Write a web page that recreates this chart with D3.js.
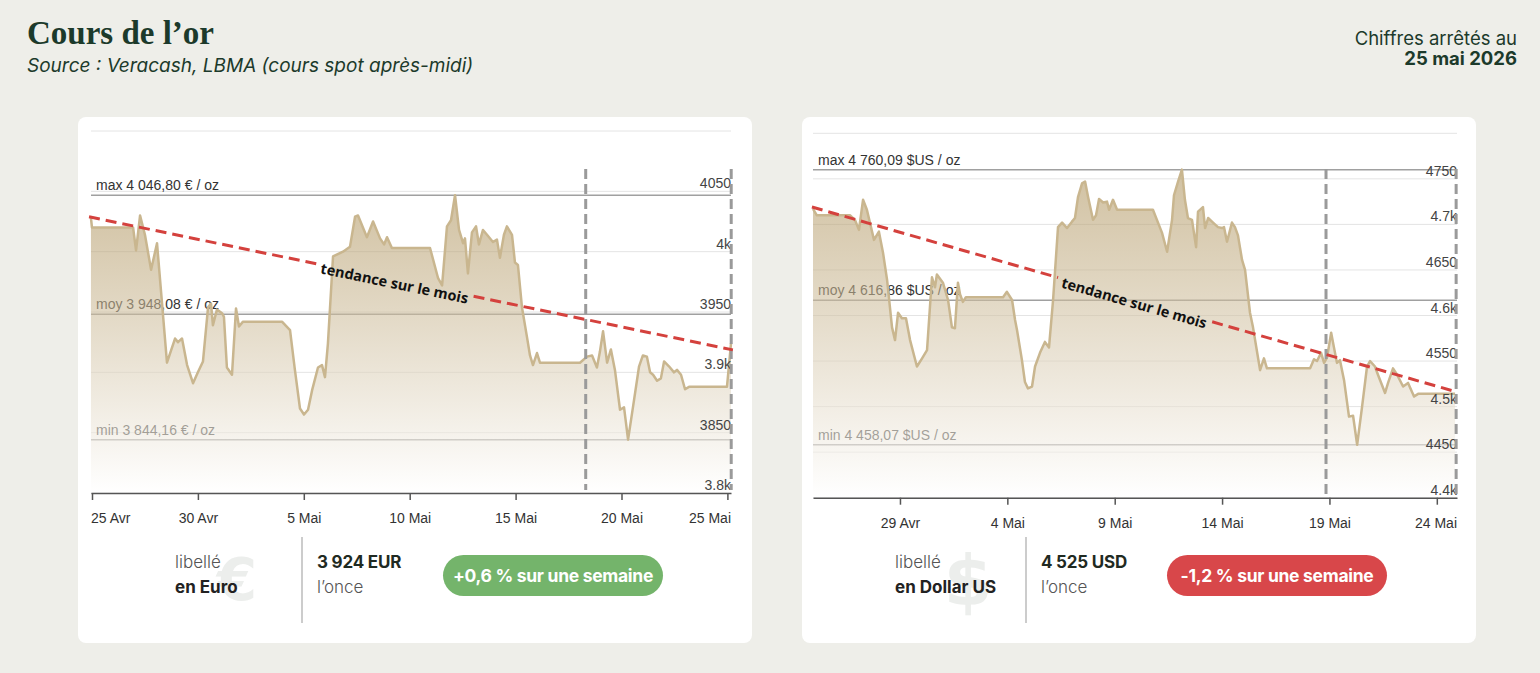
<!DOCTYPE html>
<html><head><meta charset="utf-8">
<script src="https://cdn.jsdelivr.net/npm/d3@7"></script>
<style>
html,body{margin:0;padding:0;background:#eeeee9;}
svg{display:block;}
</style></head><body>
<svg id="chart" width="1540" height="673"></svg>
<script>
// ---------- DATA ----------
// day offsets from 25 avril 2026 (00:00) and afternoon spot prices
const eurDays = [-0.05,0,1.94,2.08,2.27,2.50,2.79,3.07,3.54,3.92,4.06,4.25,4.49,4.77,5.00,5.24,5.48,5.62,5.71,5.90,6.14,6.23,6.37,6.61,6.80,6.94,7.13,8.97,9.35,9.58,9.82,10.01,10.20,10.39,10.67,10.86,11.00,11.14,11.38,11.85,12.18,12.42,12.56,12.98,13.27,13.60,13.79,13.93,14.16,15.96,16.34,16.53,16.76,16.95,17.14,17.33,17.52,17.61,17.75,17.94,18.13,18.27,18.46,18.65,18.93,19.12,19.26,19.45,19.59,19.83,19.97,20.11,20.30,20.54,20.68,20.82,21.01,21.15,23.04,23.37,23.61,23.84,23.98,24.13,24.32,24.50,24.69,24.93,25.12,25.31,25.54,25.83,26.01,26.20,26.35,26.49,26.68,26.86,27.01,27.24,27.48,27.62,27.81,28.00,28.19,29.98,30.17];
const eurValues = [4028,4020,4020,4001,4030,4014,3985,4007,3908,3928,3925,3928,3906,3891,3900,3909,3954,3957,3939,3952,3949,3946,3904,3898,3953,3938,3942,3942,3935,3902,3870,3865,3869,3885,3904,3906,3896,3924,3996,4000,4004,4029,4030,4012,4025,4011,4006,4012,4003,4003,3978,3972,4021,4026,4046.8,4018,4007,4011,3982,4016,4021,4006,4018,4014,4008,4010,3995,4014,4021,4014,3991,3989,3954,3929,3914,3906,3916,3908,3908,3913,3914,3904,3917,3934,3908,3919,3902,3869,3871,3844.2,3871,3905,3914,3913,3900,3898,3893,3895,3909,3905,3900,3902,3898,3886,3888,3888,3924];

const usdDays = [-0.05,0.13,1.67,1.90,2.09,2.28,2.46,2.65,2.79,3.02,3.21,3.40,3.63,3.77,3.91,4.09,4.28,4.47,4.79,5.03,5.26,5.49,5.63,5.72,6.00,6.24,6.42,6.56,6.70,6.80,6.93,7.07,8.80,8.98,9.22,9.36,9.45,9.68,9.82,9.96,10.15,10.29,10.52,10.75,10.94,11.13,11.36,11.55,11.78,12.01,12.15,12.29,12.48,12.62,12.76,12.99,13.13,13.27,13.46,13.64,13.74,13.92,14.11,15.78,16.20,16.44,16.67,16.76,16.95,17.13,17.27,17.41,17.60,17.79,17.88,18.11,18.21,18.35,18.58,18.81,19.00,19.09,19.23,19.46,19.60,19.74,19.93,20.07,20.30,20.44,20.63,20.77,20.95,21.09,23.10,23.28,23.42,23.61,23.75,23.89,24.08,24.21,24.35,24.49,24.68,24.91,25.10,25.29,25.52,25.75,25.89,26.12,26.26,26.59,26.73,26.96,27.15,27.43,27.66,27.94,28.13,29.85];
const usdValues = [4717,4710,4710,4705,4694,4727,4716,4697,4683,4692,4669,4639,4587,4573,4603,4597,4597,4573,4544,4553,4562,4642,4631,4645,4636,4617,4587,4586,4636,4623,4615,4620,4620,4626,4617,4595,4584,4551,4527,4520,4522,4544,4559,4571,4565,4617,4697,4702,4696,4703,4707,4730,4745,4747,4730,4705,4710,4728,4724,4725,4716,4727,4716,4716,4691,4670,4705,4732,4747,4760.09,4727,4707,4705,4675,4714,4719,4696,4707,4702,4697,4696,4697,4681,4702,4697,4688,4661,4650,4603,4587,4560,4540,4553,4542,4542,4552,4550,4559,4548,4554,4581,4565,4548,4551,4529,4489,4490,4458.07,4500,4544,4550,4544,4535,4515,4526,4542,4535,4522,4526,4511,4514,4514];

const eurTickDays = [0,5,10,15,20,25,30];
const eurTickLabels = ["25 Avr","30 Avr","5 Mai","10 Mai","15 Mai","20 Mai","25 Mai"];
const usdTickDays = [4,9,14,19,24,29];
const usdTickLabels = ["29 Avr","4 Mai","9 Mai","14 Mai","19 Mai","24 Mai"];

const eurYTicks = [3800,3850,3900,3950,4000,4050,4100];
const eurYLabels = ["3.8k","3850","3.9k","3950","4k","4050",""];
const usdYTicks = [4400,4450,4500,4550,4600,4650,4700,4750,4800];
const usdYLabels = ["4.4k","4450","4.5k","4550","4.6k","4650","4.7k","4750",""];

const eurStatValues = [4046.80,3948.08,3844.16];
const eurStatLabels = ["max 4 046,80 € / oz","moy 3 948,08 € / oz","min 3 844,16 € / oz"];
const usdStatValues = [4760.09,4616.86,4458.07];
const usdStatLabels = ["max 4 760,09 $US / oz","moy 4 616,86 $US / oz","min 4 458,07 $US / oz"];

const eurTrendDays = [-0.14,30.26];
const eurTrendValues = [4028.9,3918.6];
const eurTrendLabelDay = 14.31;
const usdTrendDays = [-0.10,29.94];
const usdTrendValues = [4719.1,4516.0];
const usdTrendLabelDay = 14.95;

const eurWeekDays = [23.31,30.18];
const usdWeekDays = [23.84,29.90];

const eurDomainDays = [-0.047,30.17];
const usdDomainDays = [-0.05,29.94];

const trendLabel = "tendance sur le mois";

// ---------- DRAW ----------
const base = Date.UTC(2026,3,25);
const toDate = d => new Date(base + d*864e5);
const svg = d3.select("#chart");
svg.append("rect").attr("width",1540).attr("height",673).attr("fill","#eeeee9");
const defs = svg.append("defs");

const dark = "#1c3a2b";
svg.append("text").attr("x",27).attr("y",44).text("Cours de l’or")
  .attr("font-family","'Liberation Serif', serif").attr("font-weight","bold")
  .attr("font-size",33).attr("fill",dark);
svg.append("text").attr("x",27).attr("y",72).text("Source : Veracash, LBMA (cours spot après-midi)")
  .attr("font-family","Inter, sans-serif").attr("font-style","italic")
  .attr("font-size",19).attr("fill",dark);
svg.append("text").attr("x",1517).attr("y",45).attr("text-anchor","end").text("Chiffres arrêtés au")
  .attr("font-family","Inter, sans-serif").attr("font-size",18.5).attr("fill",dark);
svg.append("text").attr("x",1517).attr("y",65).attr("text-anchor","end").text("25 mai 2026")
  .attr("font-family","Inter, sans-serif").attr("font-weight","bold").attr("font-size",18.5).attr("fill",dark);

const chartFont = "'Liberation Sans', Arial, sans-serif";

function panel(cfg){
  const g = svg.append("g");
  g.append("rect").attr("x",cfg.card[0]).attr("y",117).attr("width",674).attr("height",526)
    .attr("rx",8).attr("fill","#ffffff");

  const x = d3.scaleTime().domain(cfg.domainDays.map(toDate)).range(cfg.xRange);
  const y = d3.scaleLinear().domain(cfg.yDomain).range(cfg.yRange);
  const [x0,x1] = cfg.xRange;
  const axisY = cfg.yRange[0];

  // gridlines
  g.selectAll(null).data(cfg.yTicks).join("line")
    .attr("x1",x0).attr("x2",x1).attr("y1",d=>y(d)).attr("y2",d=>y(d))
    .attr("stroke","#e4e4e4").attr("stroke-width",1);

  // stat lines + labels
  g.selectAll(null).data(cfg.statValues).join("line")
    .attr("x1",x0).attr("x2",x1).attr("y1",d=>y(d)).attr("y2",d=>y(d))
    .attr("stroke","#a0a0a0").attr("stroke-width",1.5);
  g.selectAll(null).data(cfg.statValues).join("text")
    .attr("x",x0+5).attr("y",d=>y(d)-5).text((d,i)=>cfg.statLabels[i])
    .attr("font-family",chartFont).attr("font-size",14).attr("fill","#333");

  // area with gradient
  const data = cfg.days.map((d,i)=>({date:toDate(d), v:cfg.values[i]}));
  const gid = "grad"+cfg.id;
  const grad = defs.append("linearGradient").attr("id",gid)
    .attr("gradientUnits","userSpaceOnUse").attr("x1",0).attr("x2",0)
    .attr("y1",y(d3.max(cfg.values))).attr("y2",axisY);
  grad.append("stop").attr("offset",0).attr("stop-color","#ad9159").attr("stop-opacity",0.56);
  grad.append("stop").attr("offset",1).attr("stop-color","#ffffff").attr("stop-opacity",0.6);
  g.append("path").datum(data)
    .attr("d",d3.area().x(d=>x(d.date)).y0(axisY).y1(d=>y(d.v)))
    .attr("fill",`url(#${gid})`);
  g.append("path").datum(data)
    .attr("d",d3.line().x(d=>x(d.date)).y(d=>y(d.v)))
    .attr("fill","none").attr("stroke","#c9b68f").attr("stroke-width",2.5)
    .attr("stroke-linejoin","round");

  // y labels
  g.selectAll(null).data(cfg.yTicks).join("text")
    .attr("x",x1).attr("y",d=>y(d)-3).attr("text-anchor","end")
    .text((d,i)=>cfg.yLabels[i])
    .attr("font-family",chartFont).attr("font-size",14).attr("fill","#444");

  // x axis
  const ax = g.append("g").attr("transform",`translate(0,${axisY})`)
    .call(d3.axisBottom(x).tickValues(cfg.tickDays.map(toDate))
      .tickFormat((d,i)=>cfg.tickLabels[i]).tickSizeInner(7).tickSizeOuter(0).tickPadding(13));
  ax.select(".domain").attr("stroke","#555").attr("stroke-width",1.5);
  ax.selectAll(".tick line").attr("stroke","#555").attr("stroke-width",1.5);
  ax.selectAll(".tick text").attr("font-family",chartFont).attr("font-size",14).attr("fill","#333");
  // keep tick labels inside the plot width
  ax.selectAll(".tick").each(function(){
    const tick = d3.select(this);
    const tx = +tick.attr("transform").match(/translate\(([-\d.]+)/)[1];
    const txt = tick.select("text");
    const w = txt.node().getComputedTextLength();
    if (tx - w/2 < x0) txt.attr("text-anchor","start").attr("x", x0 - tx);
    else if (tx + w/2 > x1) txt.attr("text-anchor","end").attr("x", x1 - tx);
  });

  // weekly dashed markers
  g.selectAll(null).data(cfg.weekDays).join("line")
    .attr("x1",d=>x(toDate(d))).attr("x2",d=>x(toDate(d)))
    .attr("y1",169).attr("y2",axisY-3)
    .attr("stroke","#9a9a9a").attr("stroke-width",3).attr("stroke-dasharray","10,5");

  // trend line with label gap
  const p0 = [x(toDate(cfg.trendDays[0])), y(cfg.trendValues[0])];
  const p1 = [x(toDate(cfg.trendDays[1])), y(cfg.trendValues[1])];
  const ang = Math.atan2(p1[1]-p0[1], p1[0]-p0[0]);
  const cx = x(toDate(cfg.trendLabelDay));
  const cy = p0[1] + (cx-p0[0])*Math.tan(ang);
  const t = g.append("text").text(trendLabel)
    .attr("font-family","'Open Sans', sans-serif").attr("font-weight","bold")
    .attr("font-size",14.5).attr("fill","#111").attr("text-anchor","middle")
    .attr("dominant-baseline","central")
    .attr("transform",`translate(${cx},${cy}) rotate(${ang*180/Math.PI}) translate(0,3)`);
  const half = t.node().getComputedTextLength()/2 + 5;
  const c = Math.cos(ang), s = Math.sin(ang);
  const segs = [[p0,[cx-half*c, cy-half*s]],[[cx+half*c, cy+half*s],p1]];
  g.selectAll(null).data(segs).join("line")
    .attr("x1",d=>d[0][0]).attr("y1",d=>d[0][1]).attr("x2",d=>d[1][0]).attr("y2",d=>d[1][1])
    .attr("stroke","#d4413d").attr("stroke-width",3).attr("stroke-dasharray","11,6");

  // footer info
  const fx = cfg.card[0];
  const infoFont = "Inter, sans-serif";
  g.append("text").attr("x",fx+cfg.glyphX).attr("y",cfg.glyphY).attr("text-anchor","middle")
    .text(cfg.glyph).attr("font-family","'DejaVu Sans', sans-serif").attr("font-weight","bold")
    .attr("font-size",cfg.glyphSize).attr("fill","#eceeec");
  g.append("text").attr("x",fx+cfg.labelX).attr("y",568).text("libellé")
    .attr("font-family",infoFont).attr("font-size",17).attr("fill","#555").attr("font-weight",300);
  g.append("text").attr("x",fx+cfg.labelX).attr("y",593).text(cfg.currencyName)
    .attr("font-family",infoFont).attr("font-size",17).attr("fill","#222").attr("font-weight","bold");
  g.append("line").attr("x1",fx+224).attr("x2",fx+224).attr("y1",537).attr("y2",623)
    .attr("stroke","#aaa").attr("stroke-width",1.2);
  g.append("text").attr("x",fx+239).attr("y",568).text(cfg.price)
    .attr("font-family",infoFont).attr("font-size",17).attr("fill","#1f2a22").attr("font-weight","bold")
    .attr("letter-spacing",-0.2);
  g.append("text").attr("x",fx+239).attr("y",593).text("l’once")
    .attr("font-family",infoFont).attr("font-size",17).attr("fill","#555").attr("font-weight",300);
  g.append("rect").attr("x",fx+365).attr("y",555).attr("width",220).attr("height",41)
    .attr("rx",20.5).attr("fill",cfg.pillColor);
  g.append("text").attr("x",fx+475).attr("y",582).attr("text-anchor","middle").text(cfg.pillText)
    .attr("font-family",infoFont).attr("font-size",17.5).attr("fill","#fff").attr("font-weight","bold")
    .attr("letter-spacing",-0.3);
}

panel({id:"eur", card:[78], xRange:[91,731], yRange:[493,131], yDomain:[3800,4100],
  domainDays:eurDomainDays, days:eurDays, values:eurValues, yTicks:eurYTicks, yLabels:eurYLabels,
  tickDays:eurTickDays, tickLabels:eurTickLabels, statValues:eurStatValues, statLabels:eurStatLabels,
  trendDays:eurTrendDays, trendValues:eurTrendValues, trendLabelDay:eurTrendLabelDay, weekDays:eurWeekDays,
  glyph:"€", glyphX:159, glyphY:600, glyphSize:58, labelX:97, currencyName:"en Euro",
  price:"3 924 EUR", pillColor:"#74b46b", pillText:"+0,6 % sur une semaine"});

panel({id:"usd", card:[802], xRange:[813,1457], yRange:[497.7,133.3], yDomain:[4400,4800],
  domainDays:usdDomainDays, days:usdDays, values:usdValues, yTicks:usdYTicks, yLabels:usdYLabels,
  tickDays:usdTickDays, tickLabels:usdTickLabels, statValues:usdStatValues, statLabels:usdStatLabels,
  trendDays:usdTrendDays, trendValues:usdTrendValues, trendLabelDay:usdTrendLabelDay, weekDays:usdWeekDays,
  glyph:"$", glyphX:166, glyphY:605, glyphSize:70, labelX:93, currencyName:"en Dollar US",
  price:"4 525 USD", pillColor:"#d8474a", pillText:"-1,2 % sur une semaine"});
</script></body></html>
